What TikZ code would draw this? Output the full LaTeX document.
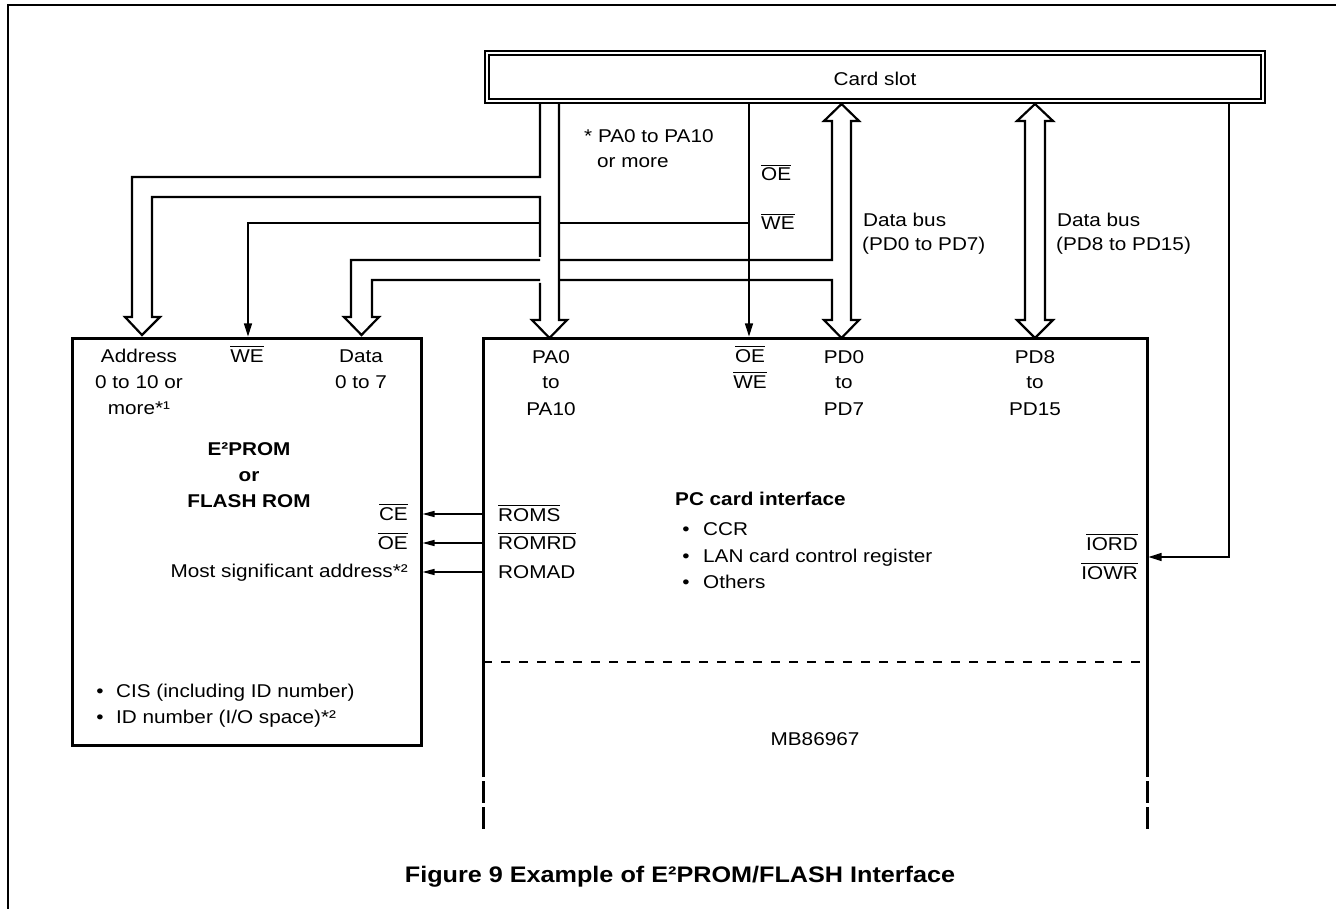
\documentclass[tikz,border=0pt]{standalone}
\usepackage{fontspec}
\setmainfont{Liberation Sans}[FakeStretch=1.12]
\usetikzlibrary{arrows.meta}
\newcommand\ovl[1]{{\setbox0=\hbox{#1}\rlap{\rule[\dimexpr\ht0+2pt\relax]{\wd0}{1.2pt}}\box0}}
\begin{document}
\begin{tikzpicture}[x=1pt,y=-1pt,
  txt/.style={inner sep=0pt, font=\fontsize{18.5}{22}\selectfont},
  btxt/.style={inner sep=0pt, font=\fontsize{18.5}{22}\selectfont\bfseries},
  bus/.style={line width=2.2pt, line join=miter},
  thinln/.style={line width=1.2pt},
  sig/.style={thinln, -{Triangle[length=13pt,width=8pt]}},
  smallsig/.style={line width=1.4pt, -{Triangle[length=12pt,width=6pt]}},
  boxln/.style={line width=3pt}]
\useasboundingbox (0,0) rectangle (1336,909);
% outer frame
\draw[line width=1.5pt] (8,909) -- (8,5) -- (1336,5);
% card slot
\node[draw, line width=1.6pt, double, double distance=2.4pt, minimum width=776pt, minimum height=48pt, inner sep=0pt] (slot) at (875,77) {};
\node[txt, anchor=base] (slottxt) at (875,86) {Card slot};
% boxes
\node[draw, boxln, minimum width=349pt, minimum height=407pt, inner sep=0pt] (eep) at (246.5,541.5) {};
\coordinate (mbtl) at (483,338);
\coordinate (mbtr) at (1147,338);
\draw[boxln] (483,777) -- (mbtl) -- (mbtr) -- (1147,777);
\draw[boxln] (483,781) -- (483,803) (483,807) -- (483,829);
\draw[boxln] (1147,781) -- (1147,803) (1147,807) -- (1147,829);
\draw[line width=1.5pt, dash pattern=on 9pt off 9pt] (483,662) -- (1147,662);
% address bus
\draw[bus] (540,103) -- (540,177) -- (132,177) -- (132,317) -- (125,317) -- (142,335) -- (160,317) -- (152,317) -- (152,197) -- (540,197) -- (540,257);
\draw[bus] (540,283) -- (540,320) -- (532,320) -- (549.5,338) -- (567,320) -- (559,320) -- (559,103);
% data bus PD0-PD7
\draw[bus] (559,260) -- (832,260) -- (832,121) -- (824,121) -- (841.5,104) -- (859,121) -- (851,121) -- (851,320) -- (859,320) -- (841.5,338) -- (824,320) -- (832,320) -- (832,280) -- (559,280);
\draw[bus] (540,260) -- (351,260) -- (351,317) -- (344,317) -- (361.5,335) -- (379,317) -- (372,317) -- (372,280) -- (540,280);
% data bus PD8-PD15
\draw[bus] (1025,121) -- (1017,121) -- (1035,104) -- (1053,121) -- (1045,121) -- (1045,320) -- (1053,320) -- (1035,338) -- (1017,320) -- (1025,320) -- cycle;
% OE / WE signal
\coordinate (oetop) at (749,103);
\coordinate (oeend) at (749,336.5);
\draw[sig] (oetop) -- (oeend);
\draw[thinln] (749,223) -- (559,223);
\draw[sig] (540,223) -- (248,223) -- (248,336.5);
% IORD/IOWR
\draw[sig] (1229,103) -- (1229,557) -- (1148.5,557);
% ROM signals
\draw[smallsig] (483,514) -- (422.5,514);
\draw[smallsig] (483,543) -- (422.5,543);
\draw[smallsig] (483,572) -- (422.5,572);
% texts near buses
\node[txt, anchor=base west] (pan1) at (584,143) {* PA0 to PA10};
\node[txt, anchor=base west] (pan2) at (597,168) {or more};
\node[txt, anchor=base west] (oel) at (761,181) {\ovl{OE}};
\node[txt, anchor=base west] (wel) at (761,230) {\ovl{WE}};
\node[txt, anchor=base west] (db1a) at (863,227) {Data bus};
\node[txt, anchor=base west] (db1b) at (862,251) {(PD0 to PD7)};
\node[txt, anchor=base west] (db2a) at (1057,227) {Data bus};
\node[txt, anchor=base west] (db2b) at (1056,251) {(PD8 to PD15)};
% EEPROM texts
\node[txt, anchor=base] (ad1) at (139,362) {Address};
\node[txt, anchor=base] (ad2) at (139,388) {0 to 10 or};
\node[txt, anchor=base] (ad3) at (139,414) {more*¹};
\node[txt, anchor=base] (wee) at (247,362) {\ovl{WE}};
\node[txt, anchor=base] (da1) at (361,362) {Data};
\node[txt, anchor=base] (da2) at (361,388) {0 to 7};
\node[btxt, anchor=base] (ep1) at (249,455) {E²PROM};
\node[btxt, anchor=base] (ep2) at (249,481) {or};
\node[btxt, anchor=base] (ep3) at (249,507) {FLASH ROM};
\node[txt, anchor=base east] (ce) at (408,520) {\ovl{CE}};
\node[txt, anchor=base east] (oee) at (408,549) {\ovl{OE}};
\node[txt, anchor=base east] (msa) at (408,577) {Most significant address*²};
\node[txt, anchor=base] (b1) at (100,697) {•};
\node[txt, anchor=base west] (cis) at (116,697) {CIS (including ID number)};
\node[txt, anchor=base] (b2) at (100,723) {•};
\node[txt, anchor=base west] (idn) at (116,723) {ID number (I/O space)*²};
% MB86967 texts
\node[txt, anchor=base west] (roms) at (498,521) {\ovl{ROMS}};
\node[txt, anchor=base west] (romrd) at (498,549) {\ovl{ROMRD}};
\node[txt, anchor=base west] (romad) at (498,578) {ROMAD};
\node[txt, anchor=base] (pa1) at (551,363) {PA0};
\node[txt, anchor=base] (pa2) at (551,388) {to};
\node[txt, anchor=base] (pa3) at (551,415) {PA10};
\node[txt, anchor=base] (mo1) at (750,362) {\ovl{OE}};
\node[txt, anchor=base] (mo2) at (750,388) {\ovl{WE}};
\node[txt, anchor=base] (pd1) at (844,363) {PD0};
\node[txt, anchor=base] (pd2) at (844,388) {to};
\node[txt, anchor=base] (pd3) at (844,415) {PD7};
\node[txt, anchor=base] (pe1) at (1035,363) {PD8};
\node[txt, anchor=base] (pe2) at (1035,388) {to};
\node[txt, anchor=base] (pe3) at (1035,415) {PD15};
\node[btxt, anchor=base west] (pci) at (675,505) {PC card interface};
\node[txt, anchor=base] (c1) at (686,535) {•};
\node[txt, anchor=base west] (ccr) at (703,535) {CCR};
\node[txt, anchor=base] (c2) at (686,562) {•};
\node[txt, anchor=base west] (lan) at (703,562) {LAN card control register};
\node[txt, anchor=base] (c3) at (686,588) {•};
\node[txt, anchor=base west] (oth) at (703,588) {Others};
\node[txt, anchor=base east] (iord) at (1138,550) {\ovl{IORD}};
\node[txt, anchor=base east] (iowr) at (1138,579) {\ovl{IOWR}};
\node[txt, anchor=base] (mb) at (815,745) {MB86967};
% caption
\node[inner sep=0pt, anchor=base, font=\fontsize{22.5}{26}\selectfont\bfseries] (cap) at (680,882) {Figure 9 Example of E²PROM/FLASH Interface};
\end{tikzpicture}
\end{document}
